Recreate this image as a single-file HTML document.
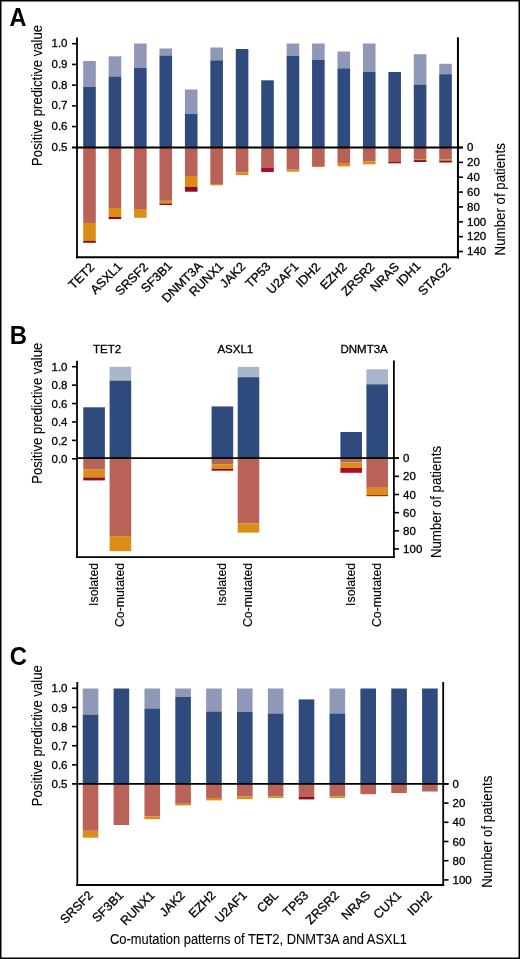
<!DOCTYPE html>
<html><head><meta charset="utf-8"><style>
html,body{margin:0;padding:0;background:#fff;}
body{width:520px;height:959px;overflow:hidden;}
svg{display:block;font-family:"Liberation Sans", sans-serif;will-change:transform;}
text{stroke:#000;stroke-width:0.3px;}
</style></head><body>
<svg width="520" height="959" viewBox="0 0 520 959">
<rect x="0" y="0" width="520" height="959" fill="#fff"/>
<rect x="83.20" y="61.00" width="12.60" height="26.00" fill="#9098b8"/>
<rect x="83.20" y="87.00" width="12.60" height="60.50" fill="#2f4a7c"/>
<rect x="83.20" y="147.50" width="12.60" height="75.50" fill="#b96257"/>
<rect x="83.20" y="223.00" width="12.60" height="17.80" fill="#db8d17"/>
<rect x="83.20" y="240.80" width="12.60" height="2.00" fill="#8e0c1c"/>
<rect x="108.63" y="56.30" width="12.60" height="20.20" fill="#9098b8"/>
<rect x="108.63" y="76.50" width="12.60" height="71.00" fill="#2f4a7c"/>
<rect x="108.63" y="147.50" width="12.60" height="60.50" fill="#b96257"/>
<rect x="108.63" y="208.00" width="12.60" height="8.90" fill="#db8d17"/>
<rect x="108.63" y="216.90" width="12.60" height="2.20" fill="#8e0c1c"/>
<rect x="134.06" y="43.50" width="12.60" height="24.50" fill="#9098b8"/>
<rect x="134.06" y="68.00" width="12.60" height="79.50" fill="#2f4a7c"/>
<rect x="134.06" y="147.50" width="12.60" height="61.50" fill="#b96257"/>
<rect x="134.06" y="209.00" width="12.60" height="8.80" fill="#db8d17"/>
<rect x="159.49" y="48.50" width="12.60" height="7.00" fill="#9098b8"/>
<rect x="159.49" y="55.50" width="12.60" height="92.00" fill="#2f4a7c"/>
<rect x="159.49" y="147.50" width="12.60" height="53.30" fill="#b96257"/>
<rect x="159.49" y="200.80" width="12.60" height="2.70" fill="#db8d17"/>
<rect x="159.49" y="203.50" width="12.60" height="1.50" fill="#8e0c1c"/>
<rect x="184.92" y="89.50" width="12.60" height="24.50" fill="#9098b8"/>
<rect x="184.92" y="114.00" width="12.60" height="33.50" fill="#2f4a7c"/>
<rect x="184.92" y="147.50" width="12.60" height="28.50" fill="#b96257"/>
<rect x="184.92" y="176.00" width="12.60" height="10.80" fill="#db8d17"/>
<rect x="184.92" y="186.80" width="12.60" height="4.90" fill="#8e0c1c"/>
<rect x="210.35" y="47.50" width="12.60" height="12.80" fill="#9098b8"/>
<rect x="210.35" y="60.30" width="12.60" height="87.20" fill="#2f4a7c"/>
<rect x="210.35" y="147.50" width="12.60" height="36.50" fill="#b96257"/>
<rect x="210.35" y="184.00" width="12.60" height="1.30" fill="#db8d17"/>
<rect x="235.78" y="49.00" width="12.60" height="98.50" fill="#2f4a7c"/>
<rect x="235.78" y="147.50" width="12.60" height="24.70" fill="#b96257"/>
<rect x="235.78" y="172.20" width="12.60" height="2.80" fill="#db8d17"/>
<rect x="261.21" y="80.30" width="12.60" height="67.20" fill="#2f4a7c"/>
<rect x="261.21" y="147.50" width="12.60" height="20.10" fill="#b96257"/>
<rect x="261.21" y="167.60" width="12.60" height="4.40" fill="#a80c26"/>
<rect x="286.64" y="43.50" width="12.60" height="12.30" fill="#9098b8"/>
<rect x="286.64" y="55.80" width="12.60" height="91.70" fill="#2f4a7c"/>
<rect x="286.64" y="147.50" width="12.60" height="22.10" fill="#b96257"/>
<rect x="286.64" y="169.60" width="12.60" height="2.10" fill="#db8d17"/>
<rect x="312.07" y="43.50" width="12.60" height="16.50" fill="#9098b8"/>
<rect x="312.07" y="60.00" width="12.60" height="87.50" fill="#2f4a7c"/>
<rect x="312.07" y="147.50" width="12.60" height="18.50" fill="#b96257"/>
<rect x="312.07" y="166.00" width="12.60" height="1.00" fill="#db8d17"/>
<rect x="337.50" y="51.50" width="12.60" height="16.80" fill="#9098b8"/>
<rect x="337.50" y="68.30" width="12.60" height="79.20" fill="#2f4a7c"/>
<rect x="337.50" y="147.50" width="12.60" height="15.50" fill="#b96257"/>
<rect x="337.50" y="163.00" width="12.60" height="3.40" fill="#db8d17"/>
<rect x="362.93" y="43.50" width="12.60" height="28.50" fill="#9098b8"/>
<rect x="362.93" y="72.00" width="12.60" height="75.50" fill="#2f4a7c"/>
<rect x="362.93" y="147.50" width="12.60" height="13.80" fill="#b96257"/>
<rect x="362.93" y="161.30" width="12.60" height="3.00" fill="#db8d17"/>
<rect x="388.36" y="72.00" width="12.60" height="75.50" fill="#2f4a7c"/>
<rect x="388.36" y="147.50" width="12.60" height="14.50" fill="#b96257"/>
<rect x="388.36" y="162.00" width="12.60" height="1.30" fill="#8e0c1c"/>
<rect x="413.79" y="54.20" width="12.60" height="30.40" fill="#9098b8"/>
<rect x="413.79" y="84.60" width="12.60" height="62.90" fill="#2f4a7c"/>
<rect x="413.79" y="147.50" width="12.60" height="11.60" fill="#b96257"/>
<rect x="413.79" y="159.10" width="12.60" height="1.00" fill="#db8d17"/>
<rect x="413.79" y="160.10" width="12.60" height="1.90" fill="#8e0c1c"/>
<rect x="439.22" y="63.80" width="12.60" height="10.40" fill="#9098b8"/>
<rect x="439.22" y="74.20" width="12.60" height="73.30" fill="#2f4a7c"/>
<rect x="439.22" y="147.50" width="12.60" height="12.10" fill="#b96257"/>
<rect x="439.22" y="159.60" width="12.60" height="1.00" fill="#db8d17"/>
<rect x="439.22" y="160.60" width="12.60" height="1.90" fill="#8e0c1c"/>
<line x1="77.00" y1="37.50" x2="77.00" y2="258.30" stroke="#000" stroke-width="1.8"/>
<line x1="76.00" y1="257.30" x2="459.00" y2="257.30" stroke="#000" stroke-width="2.1"/>
<line x1="457.95" y1="37.30" x2="457.95" y2="258.30" stroke="#000" stroke-width="2.0"/>
<line x1="72.00" y1="147.50" x2="463.00" y2="147.50" stroke="#000" stroke-width="1.9"/>
<line x1="72.00" y1="43.70" x2="77.00" y2="43.70" stroke="#000" stroke-width="1.6"/>
<text x="67.50" y="47.30" font-size="11.5" text-anchor="end" font-weight="normal">1.0</text>
<line x1="72.00" y1="64.42" x2="77.00" y2="64.42" stroke="#000" stroke-width="1.6"/>
<text x="67.50" y="68.02" font-size="11.5" text-anchor="end" font-weight="normal">0.9</text>
<line x1="72.00" y1="85.14" x2="77.00" y2="85.14" stroke="#000" stroke-width="1.6"/>
<text x="67.50" y="88.74" font-size="11.5" text-anchor="end" font-weight="normal">0.8</text>
<line x1="72.00" y1="105.86" x2="77.00" y2="105.86" stroke="#000" stroke-width="1.6"/>
<text x="67.50" y="109.46" font-size="11.5" text-anchor="end" font-weight="normal">0.7</text>
<line x1="72.00" y1="126.58" x2="77.00" y2="126.58" stroke="#000" stroke-width="1.6"/>
<text x="67.50" y="130.18" font-size="11.5" text-anchor="end" font-weight="normal">0.6</text>
<text x="67.50" y="150.90" font-size="11.5" text-anchor="end" font-weight="normal">0.5</text>
<line x1="457.95" y1="147.50" x2="463.00" y2="147.50" stroke="#000" stroke-width="1.6"/>
<text x="467.00" y="151.30" font-size="11.5" text-anchor="start" font-weight="normal">0</text>
<line x1="457.95" y1="162.36" x2="463.00" y2="162.36" stroke="#000" stroke-width="1.6"/>
<text x="467.00" y="166.16" font-size="11.5" text-anchor="start" font-weight="normal">20</text>
<line x1="457.95" y1="177.22" x2="463.00" y2="177.22" stroke="#000" stroke-width="1.6"/>
<text x="467.00" y="181.02" font-size="11.5" text-anchor="start" font-weight="normal">40</text>
<line x1="457.95" y1="192.08" x2="463.00" y2="192.08" stroke="#000" stroke-width="1.6"/>
<text x="467.00" y="195.88" font-size="11.5" text-anchor="start" font-weight="normal">60</text>
<line x1="457.95" y1="206.94" x2="463.00" y2="206.94" stroke="#000" stroke-width="1.6"/>
<text x="467.00" y="210.74" font-size="11.5" text-anchor="start" font-weight="normal">80</text>
<line x1="457.95" y1="221.80" x2="463.00" y2="221.80" stroke="#000" stroke-width="1.6"/>
<text x="467.00" y="225.60" font-size="11.5" text-anchor="start" font-weight="normal">100</text>
<line x1="457.95" y1="236.66" x2="463.00" y2="236.66" stroke="#000" stroke-width="1.6"/>
<text x="467.00" y="240.46" font-size="11.5" text-anchor="start" font-weight="normal">120</text>
<line x1="457.95" y1="251.52" x2="463.00" y2="251.52" stroke="#000" stroke-width="1.6"/>
<text x="467.00" y="255.32" font-size="11.5" text-anchor="start" font-weight="normal">140</text>
<text x="0" y="0" font-size="15.2" text-anchor="start" font-weight="normal" transform="translate(42.10 165.90) rotate(-90) scale(0.865 1)" style="stroke-width:0.1px">Positive predictive value</text>
<text x="0" y="0" font-size="15.2" text-anchor="start" font-weight="normal" transform="translate(505.00 255.40) rotate(-90) scale(0.874 1)" style="stroke-width:0.1px">Number of patients</text>
<text x="0" y="0" font-size="12.5" text-anchor="middle" font-weight="normal" transform="translate(84.40 279.00) rotate(-45)">TET2</text>
<text x="0" y="0" font-size="12.5" text-anchor="middle" font-weight="normal" transform="translate(109.15 281.00) rotate(-45)">ASXL1</text>
<text x="0" y="0" font-size="12.5" text-anchor="middle" font-weight="normal" transform="translate(134.55 282.00) rotate(-45)">SRSF2</text>
<text x="0" y="0" font-size="12.5" text-anchor="middle" font-weight="normal" transform="translate(159.50 280.00) rotate(-45)">SF3B1</text>
<text x="0" y="0" font-size="12.5" text-anchor="middle" font-weight="normal" transform="translate(185.15 285.00) rotate(-45)">DNMT3A</text>
<text x="0" y="0" font-size="12.5" text-anchor="middle" font-weight="normal" transform="translate(209.25 282.00) rotate(-45)">RUNX1</text>
<text x="0" y="0" font-size="12.5" text-anchor="middle" font-weight="normal" transform="translate(235.55 278.00) rotate(-45)">JAK2</text>
<text x="0" y="0" font-size="12.5" text-anchor="middle" font-weight="normal" transform="translate(260.95 278.00) rotate(-45)">TP53</text>
<text x="0" y="0" font-size="12.5" text-anchor="middle" font-weight="normal" transform="translate(285.60 281.00) rotate(-45)">U2AF1</text>
<text x="0" y="0" font-size="12.5" text-anchor="middle" font-weight="normal" transform="translate(311.10 278.00) rotate(-45)">IDH2</text>
<text x="0" y="0" font-size="12.5" text-anchor="middle" font-weight="normal" transform="translate(336.45 279.00) rotate(-45)">EZH2</text>
<text x="0" y="0" font-size="12.5" text-anchor="middle" font-weight="normal" transform="translate(360.95 282.00) rotate(-45)">ZRSR2</text>
<text x="0" y="0" font-size="12.5" text-anchor="middle" font-weight="normal" transform="translate(387.60 280.00) rotate(-45)">NRAS</text>
<text x="0" y="0" font-size="12.5" text-anchor="middle" font-weight="normal" transform="translate(411.45 277.00) rotate(-45)">IDH1</text>
<text x="0" y="0" font-size="12.5" text-anchor="middle" font-weight="normal" transform="translate(437.35 282.00) rotate(-45)">STAG2</text>
<text x="0" y="0" font-size="26" text-anchor="middle" font-weight="bold" transform="translate(17.85 25.80) scale(0.9 1)" style="stroke:none">A</text>
<rect x="83.30" y="407.30" width="21.60" height="50.90" fill="#2f4a7c"/>
<rect x="83.30" y="458.20" width="21.60" height="11.40" fill="#b96257"/>
<rect x="83.30" y="469.60" width="21.60" height="7.90" fill="#db8d17"/>
<rect x="83.30" y="477.50" width="21.60" height="2.90" fill="#8e0c1c"/>
<rect x="109.60" y="366.80" width="21.60" height="13.80" fill="#a8b5cb"/>
<rect x="109.60" y="380.60" width="21.60" height="77.60" fill="#2f4a7c"/>
<rect x="109.60" y="458.20" width="21.60" height="77.90" fill="#b96257"/>
<rect x="109.60" y="536.10" width="21.60" height="15.10" fill="#db8d17"/>
<rect x="211.60" y="406.40" width="21.60" height="51.80" fill="#2f4a7c"/>
<rect x="211.60" y="458.20" width="21.60" height="6.00" fill="#b96257"/>
<rect x="211.60" y="464.20" width="21.60" height="4.70" fill="#db8d17"/>
<rect x="211.60" y="468.90" width="21.60" height="1.80" fill="#8e0c1c"/>
<rect x="237.70" y="366.90" width="21.60" height="10.30" fill="#a8b5cb"/>
<rect x="237.70" y="377.20" width="21.60" height="81.00" fill="#2f4a7c"/>
<rect x="237.70" y="458.20" width="21.60" height="65.30" fill="#b96257"/>
<rect x="237.70" y="523.50" width="21.60" height="9.10" fill="#db8d17"/>
<rect x="340.40" y="432.00" width="21.60" height="26.20" fill="#2f4a7c"/>
<rect x="340.40" y="458.20" width="21.60" height="4.30" fill="#b96257"/>
<rect x="340.40" y="462.50" width="21.60" height="5.40" fill="#db8d17"/>
<rect x="340.40" y="467.90" width="21.60" height="4.90" fill="#b00c28"/>
<rect x="366.40" y="369.30" width="21.60" height="15.00" fill="#a8b5cb"/>
<rect x="366.40" y="384.30" width="21.60" height="73.90" fill="#2f4a7c"/>
<rect x="366.40" y="458.20" width="21.60" height="29.60" fill="#b96257"/>
<rect x="366.40" y="487.80" width="21.60" height="7.20" fill="#db8d17"/>
<rect x="366.40" y="495.00" width="21.60" height="1.20" fill="#a0301e"/>
<line x1="77.00" y1="360.70" x2="77.00" y2="558.10" stroke="#000" stroke-width="1.8"/>
<line x1="76.00" y1="557.10" x2="394.90" y2="557.10" stroke="#000" stroke-width="1.8"/>
<line x1="393.90" y1="360.50" x2="393.90" y2="558.10" stroke="#000" stroke-width="1.8"/>
<line x1="77.00" y1="458.20" x2="399.00" y2="458.20" stroke="#000" stroke-width="1.8"/>
<line x1="72.00" y1="366.70" x2="77.00" y2="366.70" stroke="#000" stroke-width="1.6"/>
<text x="67.50" y="370.90" font-size="11.5" text-anchor="end" font-weight="normal">1.0</text>
<line x1="72.00" y1="385.12" x2="77.00" y2="385.12" stroke="#000" stroke-width="1.6"/>
<text x="67.50" y="389.32" font-size="11.5" text-anchor="end" font-weight="normal">0.8</text>
<line x1="72.00" y1="403.54" x2="77.00" y2="403.54" stroke="#000" stroke-width="1.6"/>
<text x="67.50" y="407.74" font-size="11.5" text-anchor="end" font-weight="normal">0.6</text>
<line x1="72.00" y1="421.96" x2="77.00" y2="421.96" stroke="#000" stroke-width="1.6"/>
<text x="67.50" y="426.16" font-size="11.5" text-anchor="end" font-weight="normal">0.4</text>
<line x1="72.00" y1="440.38" x2="77.00" y2="440.38" stroke="#000" stroke-width="1.6"/>
<text x="67.50" y="444.58" font-size="11.5" text-anchor="end" font-weight="normal">0.2</text>
<line x1="72.00" y1="458.80" x2="77.00" y2="458.80" stroke="#000" stroke-width="1.6"/>
<text x="67.50" y="463.00" font-size="11.5" text-anchor="end" font-weight="normal">0.0</text>
<line x1="393.90" y1="458.20" x2="399.00" y2="458.20" stroke="#000" stroke-width="1.6"/>
<text x="403.10" y="462.30" font-size="11.5" text-anchor="start" font-weight="normal">0</text>
<line x1="393.90" y1="476.35" x2="399.00" y2="476.35" stroke="#000" stroke-width="1.6"/>
<text x="403.10" y="480.45" font-size="11.5" text-anchor="start" font-weight="normal">20</text>
<line x1="393.90" y1="494.50" x2="399.00" y2="494.50" stroke="#000" stroke-width="1.6"/>
<text x="403.10" y="498.60" font-size="11.5" text-anchor="start" font-weight="normal">40</text>
<line x1="393.90" y1="512.65" x2="399.00" y2="512.65" stroke="#000" stroke-width="1.6"/>
<text x="403.10" y="516.75" font-size="11.5" text-anchor="start" font-weight="normal">60</text>
<line x1="393.90" y1="530.80" x2="399.00" y2="530.80" stroke="#000" stroke-width="1.6"/>
<text x="403.10" y="534.90" font-size="11.5" text-anchor="start" font-weight="normal">80</text>
<line x1="393.90" y1="548.95" x2="399.00" y2="548.95" stroke="#000" stroke-width="1.6"/>
<text x="403.10" y="553.05" font-size="11.5" text-anchor="start" font-weight="normal">100</text>
<text x="0" y="0" font-size="15.2" text-anchor="start" font-weight="normal" transform="translate(42.10 483.70) rotate(-90) scale(0.865 1)" style="stroke-width:0.1px">Positive predictive value</text>
<text x="0" y="0" font-size="15.2" text-anchor="start" font-weight="normal" transform="translate(440.90 558.10) rotate(-90) scale(0.874 1)" style="stroke-width:0.1px">Number of patients</text>
<text x="107.00" y="353.10" font-size="11.5" text-anchor="middle" font-weight="normal">TET2</text>
<text x="235.30" y="353.10" font-size="11.5" text-anchor="middle" font-weight="normal">ASXL1</text>
<text x="364.10" y="353.10" font-size="11.5" text-anchor="middle" font-weight="normal">DNMT3A</text>
<text x="0" y="0" font-size="12.3" text-anchor="end" font-weight="normal" transform="translate(97.80 562.80) rotate(-90)" style="stroke-width:0.15px">Isolated</text>
<text x="0" y="0" font-size="12.3" text-anchor="end" font-weight="normal" transform="translate(124.10 562.80) rotate(-90)" style="stroke-width:0.15px">Co-mutated</text>
<text x="0" y="0" font-size="12.3" text-anchor="end" font-weight="normal" transform="translate(226.10 562.80) rotate(-90)" style="stroke-width:0.15px">Isolated</text>
<text x="0" y="0" font-size="12.3" text-anchor="end" font-weight="normal" transform="translate(252.20 562.80) rotate(-90)" style="stroke-width:0.15px">Co-mutated</text>
<text x="0" y="0" font-size="12.3" text-anchor="end" font-weight="normal" transform="translate(354.90 562.80) rotate(-90)" style="stroke-width:0.15px">Isolated</text>
<text x="0" y="0" font-size="12.3" text-anchor="end" font-weight="normal" transform="translate(380.90 562.80) rotate(-90)" style="stroke-width:0.15px">Co-mutated</text>
<text x="0" y="0" font-size="26" text-anchor="middle" font-weight="bold" transform="translate(18.45 343.80) scale(0.92 1)" style="stroke:none">B</text>
<rect x="82.75" y="688.50" width="15.60" height="26.10" fill="#9098b8"/>
<rect x="82.75" y="714.60" width="15.60" height="69.30" fill="#2f4a7c"/>
<rect x="82.75" y="783.90" width="15.60" height="46.90" fill="#b96257"/>
<rect x="82.75" y="830.80" width="15.60" height="6.90" fill="#db8d17"/>
<rect x="113.60" y="688.50" width="15.60" height="95.40" fill="#2f4a7c"/>
<rect x="113.60" y="783.90" width="15.60" height="41.10" fill="#b96257"/>
<rect x="144.45" y="688.50" width="15.60" height="20.00" fill="#9098b8"/>
<rect x="144.45" y="708.50" width="15.60" height="75.40" fill="#2f4a7c"/>
<rect x="144.45" y="783.90" width="15.60" height="32.60" fill="#b96257"/>
<rect x="144.45" y="816.50" width="15.60" height="2.70" fill="#db8d17"/>
<rect x="175.30" y="688.50" width="15.60" height="8.40" fill="#9098b8"/>
<rect x="175.30" y="696.90" width="15.60" height="87.00" fill="#2f4a7c"/>
<rect x="175.30" y="783.90" width="15.60" height="19.90" fill="#b96257"/>
<rect x="175.30" y="803.80" width="15.60" height="1.60" fill="#db8d17"/>
<rect x="206.15" y="688.50" width="15.60" height="23.00" fill="#9098b8"/>
<rect x="206.15" y="711.50" width="15.60" height="72.40" fill="#2f4a7c"/>
<rect x="206.15" y="783.90" width="15.60" height="14.10" fill="#b96257"/>
<rect x="206.15" y="798.00" width="15.60" height="2.40" fill="#db8d17"/>
<rect x="237.00" y="688.50" width="15.60" height="23.50" fill="#9098b8"/>
<rect x="237.00" y="712.00" width="15.60" height="71.90" fill="#2f4a7c"/>
<rect x="237.00" y="783.90" width="15.60" height="12.70" fill="#b96257"/>
<rect x="237.00" y="796.60" width="15.60" height="2.50" fill="#db8d17"/>
<rect x="267.85" y="688.50" width="15.60" height="25.00" fill="#9098b8"/>
<rect x="267.85" y="713.50" width="15.60" height="70.40" fill="#2f4a7c"/>
<rect x="267.85" y="783.90" width="15.60" height="12.30" fill="#b96257"/>
<rect x="267.85" y="796.20" width="15.60" height="1.80" fill="#db8d17"/>
<rect x="298.70" y="699.40" width="15.60" height="84.50" fill="#2f4a7c"/>
<rect x="298.70" y="783.90" width="15.60" height="13.10" fill="#b96257"/>
<rect x="298.70" y="797.00" width="15.60" height="2.40" fill="#8e0c1c"/>
<rect x="329.55" y="688.50" width="15.60" height="25.00" fill="#9098b8"/>
<rect x="329.55" y="713.50" width="15.60" height="70.40" fill="#2f4a7c"/>
<rect x="329.55" y="783.90" width="15.60" height="12.30" fill="#b96257"/>
<rect x="329.55" y="796.20" width="15.60" height="1.80" fill="#db8d17"/>
<rect x="360.40" y="688.50" width="15.60" height="95.40" fill="#2f4a7c"/>
<rect x="360.40" y="783.90" width="15.60" height="10.30" fill="#b96257"/>
<rect x="391.25" y="688.50" width="15.60" height="95.40" fill="#2f4a7c"/>
<rect x="391.25" y="783.90" width="15.60" height="9.10" fill="#b96257"/>
<rect x="422.10" y="688.50" width="15.60" height="95.40" fill="#2f4a7c"/>
<rect x="422.10" y="783.90" width="15.60" height="7.60" fill="#b96257"/>
<line x1="77.30" y1="682.00" x2="77.30" y2="885.90" stroke="#000" stroke-width="1.8"/>
<line x1="76.30" y1="884.90" x2="444.20" y2="884.90" stroke="#000" stroke-width="2.0"/>
<line x1="443.20" y1="682.00" x2="443.20" y2="885.90" stroke="#000" stroke-width="1.8"/>
<line x1="72.00" y1="783.90" x2="448.50" y2="783.90" stroke="#000" stroke-width="1.8"/>
<line x1="72.00" y1="688.30" x2="77.30" y2="688.30" stroke="#000" stroke-width="1.6"/>
<text x="67.50" y="692.40" font-size="11.5" text-anchor="end" font-weight="normal">1.0</text>
<line x1="72.00" y1="707.44" x2="77.30" y2="707.44" stroke="#000" stroke-width="1.6"/>
<text x="67.50" y="711.54" font-size="11.5" text-anchor="end" font-weight="normal">0.9</text>
<line x1="72.00" y1="726.58" x2="77.30" y2="726.58" stroke="#000" stroke-width="1.6"/>
<text x="67.50" y="730.68" font-size="11.5" text-anchor="end" font-weight="normal">0.8</text>
<line x1="72.00" y1="745.72" x2="77.30" y2="745.72" stroke="#000" stroke-width="1.6"/>
<text x="67.50" y="749.82" font-size="11.5" text-anchor="end" font-weight="normal">0.7</text>
<line x1="72.00" y1="764.86" x2="77.30" y2="764.86" stroke="#000" stroke-width="1.6"/>
<text x="67.50" y="768.96" font-size="11.5" text-anchor="end" font-weight="normal">0.6</text>
<text x="67.50" y="788.10" font-size="11.5" text-anchor="end" font-weight="normal">0.5</text>
<line x1="443.20" y1="783.90" x2="448.50" y2="783.90" stroke="#000" stroke-width="1.6"/>
<text x="452.50" y="788.00" font-size="11.5" text-anchor="start" font-weight="normal">0</text>
<line x1="443.20" y1="803.10" x2="448.50" y2="803.10" stroke="#000" stroke-width="1.6"/>
<text x="452.50" y="807.20" font-size="11.5" text-anchor="start" font-weight="normal">20</text>
<line x1="443.20" y1="822.30" x2="448.50" y2="822.30" stroke="#000" stroke-width="1.6"/>
<text x="452.50" y="826.40" font-size="11.5" text-anchor="start" font-weight="normal">40</text>
<line x1="443.20" y1="841.50" x2="448.50" y2="841.50" stroke="#000" stroke-width="1.6"/>
<text x="452.50" y="845.60" font-size="11.5" text-anchor="start" font-weight="normal">60</text>
<line x1="443.20" y1="860.70" x2="448.50" y2="860.70" stroke="#000" stroke-width="1.6"/>
<text x="452.50" y="864.80" font-size="11.5" text-anchor="start" font-weight="normal">80</text>
<line x1="443.20" y1="879.90" x2="448.50" y2="879.90" stroke="#000" stroke-width="1.6"/>
<text x="452.50" y="884.00" font-size="11.5" text-anchor="start" font-weight="normal">100</text>
<text x="0" y="0" font-size="15.2" text-anchor="start" font-weight="normal" transform="translate(41.80 806.20) rotate(-90) scale(0.865 1)" style="stroke-width:0.1px">Positive predictive value</text>
<text x="0" y="0" font-size="15.2" text-anchor="start" font-weight="normal" transform="translate(491.90 887.80) rotate(-90) scale(0.874 1)" style="stroke-width:0.1px">Number of patients</text>
<text x="0" y="0" font-size="12.5" text-anchor="end" font-weight="normal" transform="translate(93.65 896.00) rotate(-45)">SRSF2</text>
<text x="0" y="0" font-size="12.5" text-anchor="end" font-weight="normal" transform="translate(124.25 896.00) rotate(-45)">SF3B1</text>
<text x="0" y="0" font-size="12.5" text-anchor="end" font-weight="normal" transform="translate(155.53 896.00) rotate(-45)">RUNX1</text>
<text x="0" y="0" font-size="12.5" text-anchor="end" font-weight="normal" transform="translate(185.80 896.00) rotate(-45)">JAK2</text>
<text x="0" y="0" font-size="12.5" text-anchor="end" font-weight="normal" transform="translate(216.33 896.00) rotate(-45)">EZH2</text>
<text x="0" y="0" font-size="12.5" text-anchor="end" font-weight="normal" transform="translate(247.60 896.00) rotate(-45)">U2AF1</text>
<text x="0" y="0" font-size="12.5" text-anchor="end" font-weight="normal" transform="translate(279.20 896.00) rotate(-45)">CBL</text>
<text x="0" y="0" font-size="12.5" text-anchor="end" font-weight="normal" transform="translate(309.25 896.00) rotate(-45)">TP53</text>
<text x="0" y="0" font-size="12.5" text-anchor="end" font-weight="normal" transform="translate(339.80 896.00) rotate(-45)">ZRSR2</text>
<text x="0" y="0" font-size="12.5" text-anchor="end" font-weight="normal" transform="translate(371.07 896.00) rotate(-45)">NRAS</text>
<text x="0" y="0" font-size="12.5" text-anchor="end" font-weight="normal" transform="translate(402.10 896.00) rotate(-45)">CUX1</text>
<text x="0" y="0" font-size="12.5" text-anchor="end" font-weight="normal" transform="translate(432.75 896.00) rotate(-45)">IDH2</text>
<text x="0" y="0" font-size="15.2" text-anchor="start" font-weight="normal" transform="translate(110.00 944.30) scale(0.849 1)" style="stroke-width:0.1px">Co-mutation patterns of TET2, DNMT3A and ASXL1</text>
<text x="0" y="0" font-size="26.5" text-anchor="middle" font-weight="bold" transform="translate(18.30 665.40) scale(0.9 1)" style="stroke:none">C</text>
<rect x="0.75" y="0.75" width="518.5" height="957.5" fill="none" stroke="#000" stroke-width="1.5"/>
</svg>
</body></html>
